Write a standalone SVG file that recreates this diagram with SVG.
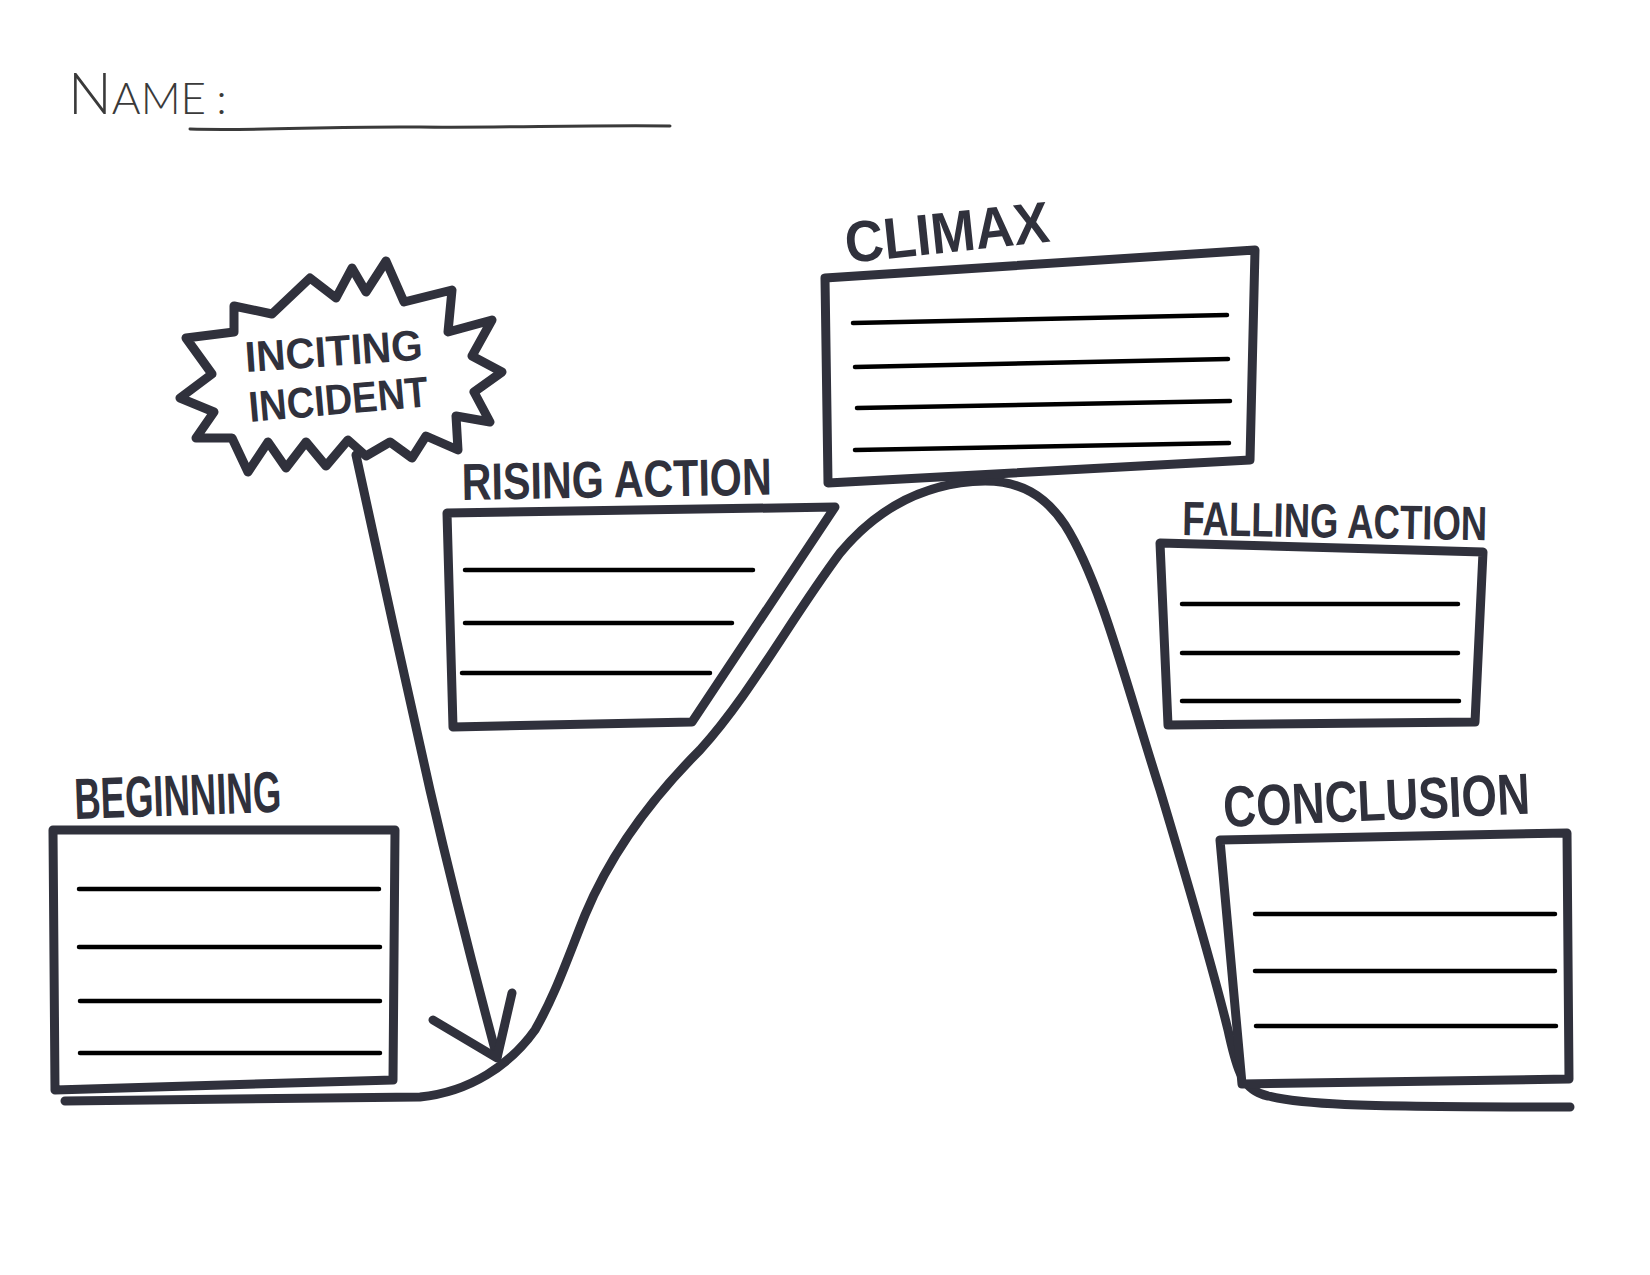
<svg xmlns="http://www.w3.org/2000/svg" width="1650" height="1275" viewBox="0 0 1650 1275">
  <style>
    .ink { fill: none; stroke: #30313c; stroke-width: 9; stroke-linecap: round; stroke-linejoin: round; }
    .box { fill: #ffffff; stroke: #30313c; stroke-width: 9; stroke-linecap: round; stroke-linejoin: round; }
    .rule { stroke: #000000; stroke-width: 4.5; stroke-linecap: round; fill: none; }
    .label { font-family: "Liberation Sans", "DejaVu Sans", sans-serif; font-weight: bold; fill: #30313c; }
    .hand { font-family: "Lato", "Liberation Sans", sans-serif; font-weight: 300; fill: #3a3a3a; }
  </style>

  <rect x="0" y="0" width="1650" height="1275" fill="#ffffff"/>

  <!-- name field -->
  <g id="name-field">
    <text class="hand" x="68" y="114" font-size="58">N<tspan font-size="44">AME</tspan><tspan font-size="44" dx="10">:</tspan></text>
    <path d="M190,129 C260,131 330,126 420,127 C500,128 580,125 670,126" fill="none" stroke="#3a3a3a" stroke-width="3" stroke-linecap="round"/>
  </g>

  <!-- story arc and inciting arrow -->
  <g id="connectors">
    <path class="ink" d="M65,1101 L420,1097 C470,1092 510,1065 535,1030 C555,995 565,965 585,915 C610,855 650,800 700,750 C750,695 790,620 840,553 C880,505 930,482 985,481 C1020,481 1045,495 1065,525 C1100,580 1125,680 1160,790 C1190,890 1212,965 1228,1030 C1236,1065 1240,1090 1268,1096 C1300,1104 1340,1107 1570,1107"/>
    <path class="ink" d="M356,455 C380,565 405,680 430,790 C452,885 475,975 497,1057"/>
    <path class="ink" d="M433,1020 L497,1058 L512,993"/>
  </g>

  <!-- Beginning -->
  <g id="node-beginning">
    <path class="box" d="M53,830 L395,830 L393,1080 L55,1090 Z"/>
    <path class="rule" d="M79,889 L379,889 M79,947 L380,947 M80,1001 L380,1001 M80,1053 L380,1053"/>
    <text class="label" x="75" y="819" font-size="58" textLength="207" lengthAdjust="spacingAndGlyphs" transform="rotate(-2 75 819)">BEGINNING</text>
  </g>

  <!-- Inciting incident -->
  <g id="node-inciting">
    <path class="box" d="M234,306 L272,314 L310,278 L336,298 L352,268 L366,292 L386,261 L404,302 L452,290 L448,332 L492,320 L472,356 L502,372 L474,392 L490,422 L456,416 L458,450 L426,436 L412,458 L390,442 L366,456 L348,440 L326,466 L306,442 L286,468 L268,442 L248,472 L232,438 L196,438 L214,412 L180,398 L212,374 L186,338 L234,332 Z"/>
    <text class="label" x="246" y="372" font-size="43" textLength="178" lengthAdjust="spacingAndGlyphs" transform="rotate(-4 246 372)">INCITING</text>
    <text class="label" x="250" y="422" font-size="43" textLength="180" lengthAdjust="spacingAndGlyphs" transform="rotate(-5 250 422)">INCIDENT</text>
  </g>

  <!-- Rising action -->
  <g id="node-rising">
    <path class="box" d="M447,513 L835,507 L692,722 L453,727 Z"/>
    <path class="rule" d="M465,570 L753,570 M465,623 L732,623 M462,673 L710,673"/>
    <text class="label" x="462" y="500" font-size="52" textLength="310" lengthAdjust="spacingAndGlyphs" transform="rotate(-1 462 500)">RISING ACTION</text>
  </g>

  <!-- Climax -->
  <g id="node-climax">
    <path class="box" d="M825,278 L1255,250 L1250,460 L828,483 Z"/>
    <path class="rule" d="M853,323 L1227,315 M855,367 L1228,359 M857,408 L1230,401 M855,450 L1229,443"/>
    <text class="label" x="847" y="263" font-size="58" textLength="205" lengthAdjust="spacingAndGlyphs" transform="rotate(-6 847 263)">CLIMAX</text>
  </g>

  <!-- Falling action -->
  <g id="node-falling">
    <path class="box" d="M1160,543 L1483,552 L1475,722 L1168,725 Z"/>
    <path class="rule" d="M1182,604 L1458,604 M1182,653 L1458,653 M1182,701 L1459,701"/>
    <text class="label" x="1182" y="535" font-size="48" textLength="305" lengthAdjust="spacingAndGlyphs" transform="rotate(1 1182 535)">FALLING ACTION</text>
  </g>

  <!-- Conclusion -->
  <g id="node-conclusion">
    <path class="box" d="M1220,840 L1567,833 L1569,1079 L1242,1084 Z"/>
    <path class="rule" d="M1255,914 L1555,914 M1255,971 L1555,971 M1256,1026 L1556,1026"/>
    <text class="label" x="1224" y="827" font-size="58" textLength="307" lengthAdjust="spacingAndGlyphs" transform="rotate(-2.5 1224 827)">CONCLUSION</text>
  </g>
</svg>
